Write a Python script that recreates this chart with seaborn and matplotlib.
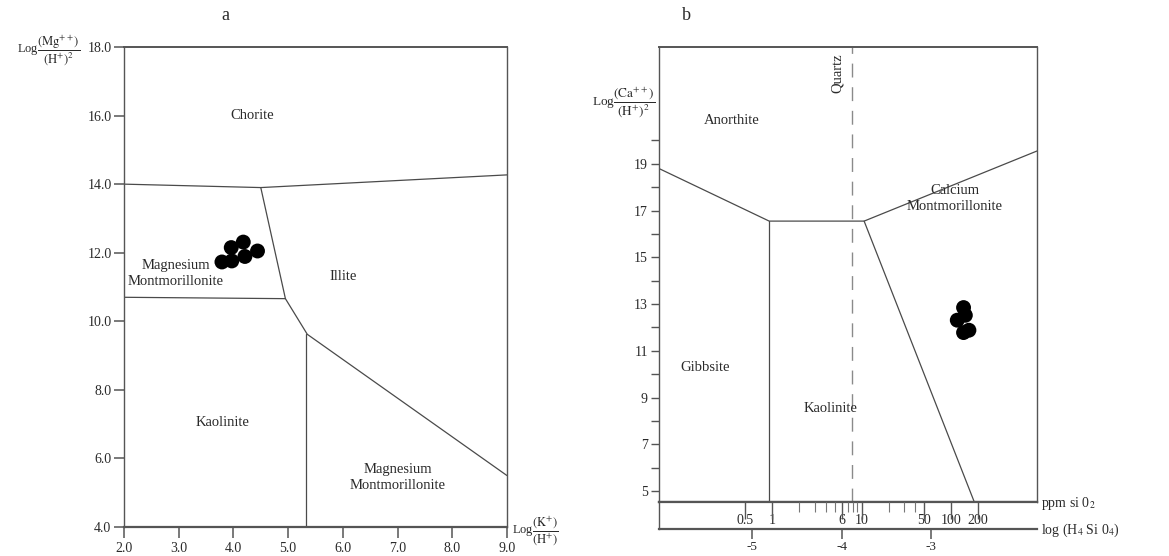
import matplotlib
matplotlib.use("Agg")
import numpy as np
import pandas as pd
import seaborn as sns
import matplotlib.pyplot as plt

# ---------------- data (panel a) ----------------
a_xticks = [2.0, 3.0, 4.0, 5.0, 6.0, 7.0, 8.0, 9.0]
a_yticks = [4.0, 6.0, 8.0, 10.0, 12.0, 14.0, 16.0, 18.0]
a_chlorite_x = [2.0, 4.5, 9.0]
a_chlorite_y = [14.0, 13.9, 14.27]
a_illite_x = [4.5, 4.95, 5.35, 9.0]
a_illite_y = [13.9, 10.66, 9.62, 5.5]
a_mgmont_x = [2.0, 4.95]
a_mgmont_y = [10.7, 10.66]
a_kaol_x = [5.33, 5.33]
a_kaol_y = [9.62, 4.0]
a_samples_x = [3.79, 3.97, 3.96, 4.18, 4.21, 4.44]
a_samples_y = [11.73, 11.76, 12.15, 12.31, 11.89, 12.05]

# ---------------- data (panel b) ----------------
b_ymajor = [5, 7, 9, 11, 13, 15, 17, 19]
b_yminor = [6, 8, 10, 12, 14, 16, 18, 20]
b_logticks = [-5, -4, -3]
b_ppm_major = [0.5, 1, 6, 10, 50, 100, 200]
b_ppm_minor = [2, 3, 4, 5, 7, 8, 9, 20, 30, 40]
b_anorthite_x = [-6.04, -4.81, -3.75, -1.82]
b_anorthite_y = [18.8, 16.55, 16.55, 19.55]
b_gibbsite_x = [-4.81, -4.81]
b_gibbsite_y = [16.55, 4.53]
b_kaol_x = [-3.75, -2.52]
b_kaol_y = [16.55, 4.53]
b_quartz_x = [-3.89, -3.89]
b_quartz_y = [4.53, 24.0]
b_samples_x = [-2.64, -2.62, -2.71, -2.64, -2.58]
b_samples_y = [12.85, 12.52, 12.31, 11.78, 11.88]

SIO2_MG_PER_MOL = 60080.0


def ppm_to_log(p):
    return np.log10(np.asarray(p, dtype=float) / SIO2_MG_PER_MOL)


sns.set_theme(style="ticks")
plt.rcParams["font.family"] = ["Liberation Serif", "DejaVu Serif"]
plt.rcParams["mathtext.fontset"] = "stix"

W, H = 1169, 556
fig = plt.figure(figsize=(W / 100, H / 100), dpi=100)

TXT = "#2a2a2a"
LINE = "#4a4a4a"
SP = "#555555"


def fx(px):
    return px / W


def fy(py):
    return 1 - py / H


# ---------------- panel a ----------------
axL = fig.add_axes([fx(124), fy(527), (507 - 124) / W, (527 - 47) / H])
axL.set_xlim(2, 9)
axL.set_ylim(4, 18)
for xs, ys in [(a_chlorite_x, a_chlorite_y), (a_illite_x, a_illite_y),
               (a_mgmont_x, a_mgmont_y), (a_kaol_x, a_kaol_y)]:
    sns.lineplot(x=xs, y=ys, sort=False, estimator=None, color=LINE,
                 linewidth=0.9, ax=axL)
sns.scatterplot(x=a_samples_x, y=a_samples_y, s=115, color="black",
                edgecolor="none", ax=axL, zorder=5)
axL.set_xticks(a_xticks)
axL.set_xticklabels([f"{v:.1f}" for v in a_xticks])
axL.set_yticks(a_yticks)
axL.set_yticklabels([f"{v:.1f}" for v in a_yticks])
axL.tick_params(axis="x", direction="out", length=8, width=1.1, color=SP,
                labelsize=10, labelcolor=TXT, pad=3)
axL.tick_params(axis="y", direction="out", length=7, width=1.1, color=SP,
                labelsize=10, labelcolor=TXT, pad=2)
for s in axL.spines.values():
    s.set_color(SP)
    s.set_linewidth(1.0)
axL.spines["bottom"].set_linewidth(1.6)
axL.spines["top"].set_linewidth(1.4)
axL.set_xlabel("")
axL.set_ylabel("")

lab = dict(fontsize=10.5, color=TXT, ha="center", va="center", linespacing=1.3)
axL.text(4.35, 16.0, "Chorite", **lab)
axL.text(2.95, 11.4, "Magnesium\nMontmorillonite", **lab)
axL.text(6.0, 11.3, "Illite", **lab)
axL.text(3.8, 7.05, "Kaolinite", **lab)
axL.text(7.0, 5.45, "Magnesium\nMontmorillonite", **lab)

fig.text(fx(80), fy(51), r"Log$\dfrac{(\mathrm{Mg}^{++})}{(\mathrm{H}^{+})^{2}}$",
         ha="right", va="center", fontsize=9, color=TXT)
fig.text(fx(512), fy(531), r"Log$\dfrac{(\mathrm{K}^{+})}{(\mathrm{H}^{+})}$",
         ha="left", va="center", fontsize=9, color=TXT)
fig.text(fx(225), fy(15), "a", ha="center", va="center", fontsize=13, color=TXT)

# ---------------- panel b ----------------
xl = (-6.04, -1.82)
axR = fig.add_axes([fx(659), fy(502), (1037 - 659) / W, (502 - 47) / H])
axR.set_xlim(*xl)
axR.set_ylim(4.53, 24.0)
for xs, ys in [(b_anorthite_x, b_anorthite_y), (b_gibbsite_x, b_gibbsite_y),
               (b_kaol_x, b_kaol_y)]:
    sns.lineplot(x=xs, y=ys, sort=False, estimator=None, color=LINE,
                 linewidth=0.9, ax=axR)
sns.lineplot(x=b_quartz_x, y=b_quartz_y, sort=False, estimator=None,
             color="#8a8a8a", linewidth=1.0, ax=axR, linestyle=(0, (10, 7)))
sns.scatterplot(x=b_samples_x, y=b_samples_y, s=115, color="black",
                edgecolor="none", ax=axR, zorder=5)
axR.set_xticks([])
axR.set_yticks(b_ymajor)
axR.set_yticklabels([str(v) for v in b_ymajor])
axR.set_yticks(b_yminor, minor=True)
axR.tick_params(axis="y", which="both", direction="out", length=6, width=1.0,
                color=SP, labelsize=10, labelcolor=TXT, pad=2)
for s in axR.spines.values():
    s.set_color(SP)
    s.set_linewidth(1.0)
axR.spines["top"].set_linewidth(1.4)
axR.spines["bottom"].set_linewidth(1.6)
axR.set_xlabel("")
axR.set_ylabel("")

axR.text(-5.23, 20.85, "Anorthite", **lab)
axR.text(-4.05, 22.9, "Quartz", rotation=90, **lab)
axR.text(-2.74, 17.5, "Calcium\nMontmorillonite", **lab)
axR.text(-5.53, 10.3, "Gibbsite", **lab)
axR.text(-4.13, 8.55, "Kaolinite", **lab)

# strip with ppm and log(H4SiO4) scales
axS = fig.add_axes([fx(659), fy(529), (1037 - 659) / W, (529 - 502) / H])
axS.set_xlim(*xl)
axS.set_ylim(0, 1)
axS.set_yticks([])
axS.set_xticks(b_logticks)
axS.set_xticklabels([str(v) for v in b_logticks])
axS.tick_params(axis="x", direction="out", length=7, width=1.1, color=SP,
                labelsize=9.5, labelcolor=TXT, pad=1.5)
axS.spines["right"].set_visible(False)
for k in ["left", "top", "bottom"]:
    axS.spines[k].set_color(SP)
axS.spines["left"].set_linewidth(1.0)
axS.spines["top"].set_linewidth(1.6)
axS.spines["bottom"].set_linewidth(1.6)

axT = axS.twiny()
axT.set_xlim(*xl)
axT.set_xticks(ppm_to_log(b_ppm_major))
axT.set_xticks(ppm_to_log(b_ppm_minor), minor=True)
axT.tick_params(axis="x", which="major", direction="in", length=12, width=1.0,
                color=SP, labeltop=False, top=True)
axT.tick_params(axis="x", which="minor", direction="in", length=7, width=0.8,
                color="#777777", labeltop=False, top=True)
for k in axT.spines:
    axT.spines[k].set_visible(False)
for p, xv in zip(b_ppm_major, ppm_to_log(b_ppm_major)):
    axS.text(xv, 0.08, f"{p:g}", ha="center", va="bottom", fontsize=10,
             color=TXT)

fig.text(fx(1041), fy(503), r"ppm si 0$_2$", ha="left", va="center",
         fontsize=10, color=TXT)
fig.text(fx(1041), fy(530), r"log (H$_4$ Si 0$_4$)", ha="left", va="center",
         fontsize=10, color=TXT)
fig.text(fx(655), fy(103), r"Log$\dfrac{(\mathrm{Ca}^{++})}{(\mathrm{H}^{+})^{2}}$",
         ha="right", va="center", fontsize=9.5, color=TXT)
fig.text(fx(686), fy(15), "b", ha="center", va="center", fontsize=13, color=TXT)

fig.savefig("out.png", dpi=100)
